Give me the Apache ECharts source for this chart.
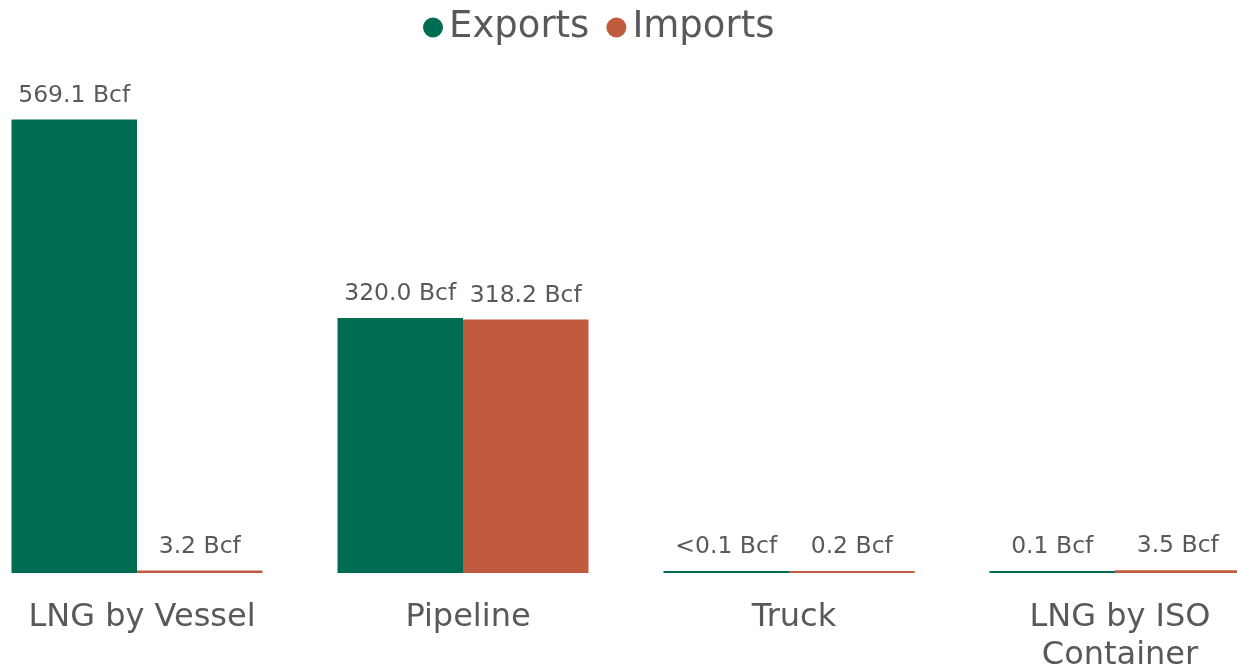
<!DOCTYPE html>
<html>
<head>
<meta charset="utf-8">
<script src="https://cdn.jsdelivr.net/npm/echarts@6/dist/echarts.min.js"></script>
<style>html,body{margin:0;padding:0;background:#fff}#c{width:1237px;height:668px}</style>
</head>
<body>
<div id="c"></div>
<script>
const categories = ['LNG by Vessel', 'Pipeline', 'Truck', 'LNG by ISO\nContainer'];
const exportsValues = [569.1, 320.0, 0.05, 0.1];
const importsValues = [3.2, 318.2, 0.2, 3.5];
const exportsLabels = ['569.1 Bcf', '320.0 Bcf', '<0.1 Bcf', '0.1 Bcf'];
const importsLabels = ['3.2 Bcf', '318.2 Bcf', '0.2 Bcf', '3.5 Bcf'];

const FONT = 'DejaVu Sans';
const chart = echarts.init(document.getElementById('c'), null, {renderer: 'canvas'});
const labelStyle = (labels) => ({
  show: true, position: 'top', distance: 12,
  color: '#595959', fontFamily: FONT, fontSize: 23.5,
  formatter: p => labels[p.dataIndex]
});
chart.setOption({
  animation: false,
  textStyle: {fontFamily: FONT},
  legend: {
    top: 4, left: 418,
    icon: 'circle', itemWidth: 20, itemHeight: 20, itemGap: 17,
    textStyle: {fontFamily: FONT, fontSize: 37, color: '#595959', padding: [0, 0, 0, 1]},
    data: ['Exports', 'Imports']
  },
  grid: {left: -26, width: 1304, top: 95, bottom: 95, containLabel: false, outerBoundsMode: 'none'},
  xAxis: {
    type: 'category', data: categories,
    axisLine: {show: false}, axisTick: {show: false},
    axisLabel: {fontFamily: FONT, fontSize: 32, color: '#595959', margin: 26, lineHeight: 38, interval: 0,
                padding: [0, 0, 0, 10]}
  },
  yAxis: {type: 'value', min: 0, max: 600, show: false, splitLine: {show: false}},
  series: [
    {name: 'Exports', type: 'bar', data: exportsValues, barGap: '0%', barCategoryGap: '23%', barMinHeight: 2,
     itemStyle: {color: '#006D52'}, label: labelStyle(exportsLabels)},
    {name: 'Imports', type: 'bar', data: importsValues, barGap: '0%', barCategoryGap: '23%', barMinHeight: 2,
     itemStyle: {color: '#C15B3F'}, label: labelStyle(importsLabels)}
  ]
});
</script>
</body>
</html>
